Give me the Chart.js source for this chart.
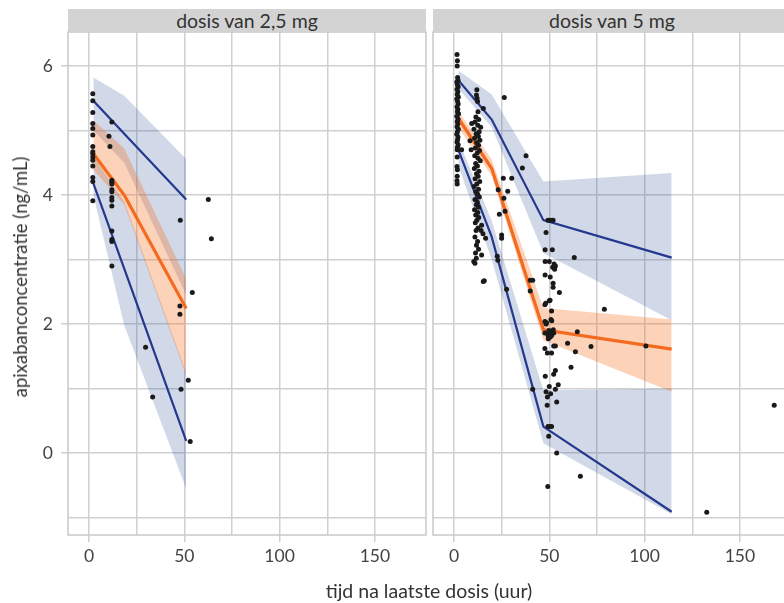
<!DOCTYPE html>
<html>
<head>
<meta charset="utf-8">
<script src="https://cdn.jsdelivr.net/npm/chart.js@4.4.1/dist/chart.umd.min.js"></script>
<style>
  html, body { margin: 0; padding: 0; background: #fff; }
  #wrap { position: relative; width: 784px; height: 603px; overflow: hidden; font-family: Lato, "Noto Sans", sans-serif; }
  canvas { position: absolute; left: 0; top: 0; }
  .strip { position: absolute; top: 9px; height: 23px; width: 358px; background: #d3d3d3; color: #333; font-size: 19.5px; line-height: 23px; text-align: center; }
  .title { position: absolute; color: #333; font-size: 19.5px; white-space: nowrap; transform: translate(-50%, -50%); }
  #ytitle { left: 20px; top: 277px; font-size: 18.5px; transform: translate(-50%, -50%) rotate(-90deg); }
  #xtitle { left: 429px; top: 590px; }
</style>
</head>
<body>
<div id="wrap">
  <canvas id="c25" width="784" height="603"></canvas>
  <canvas id="c5" width="800" height="603"></canvas>
  <div class="strip" id="s25" style="left:68px"></div>
  <div class="strip" id="s5" style="left:433px"></div>
  <div class="title" id="ytitle"></div>
  <div class="title" id="xtitle"></div>
</div>
<script>
// ---- labels ----
const panelTitles = ['dosis van 2,5 mg', 'dosis van 5 mg'];
const yTitle = 'apixabanconcentratie (ng/mL)';
const xTitle = 'tijd na laatste dosis (uur)';
const xTicks = [0, 25, 50, 75, 100, 125, 150];
const yTicks = [-1, 0, 1, 2, 3, 4, 5, 6];

// ---- 2,5 mg: binned percentiles and their confidence bands ----
const tijd25    = [2.3, 18.5, 51];
const p95_25    = [5.46, 4.95, 3.93];
const p50_25    = [4.64, 4.00, 2.24];
const p05_25    = [4.18, 2.86, 0.19];
const ci95hi_25 = [5.82, 5.54, 4.56];
const ci95lo_25 = [5.00, 4.50, 2.45];
const ci50hi_25 = [5.16, 4.72, 2.70];
const ci50lo_25 = [4.39, 3.85, 1.20];
const ci05hi_25 = [4.60, 3.90, 1.25];
const ci05lo_25 = [4.00, 1.98, -0.55];

// observed concentrations, 2,5 mg [tijd, conc]
const obs25 = [
  [2,5.57],[2,5.46],[2,5.28],[2,5.11],[2,5.03],[2,4.93],[2,4.75],[2,4.67],[2,4.64],[2,4.59],
  [2,4.54],[2,4.45],[2,4.27],[2,4.21],[2,3.91],
  [12,5.13],[10.5,4.91],[11,4.75],[12,4.23],[12,4.20],[12,4.17],[12,4.08],[12,4.05],[12,3.96],
  [12,3.92],[12,3.83],[12,3.44],[12,3.31],[12,3.28],[12,2.90],
  [47.9,3.61],[62.6,3.93],[64.2,3.32],[54.2,2.49],[47.7,2.28],[47.7,2.15],[29.7,1.64],
  [33.4,0.87],[48.3,0.99],[52.1,1.13],[53.1,0.18]
];

// ---- 5 mg: binned percentiles and their confidence bands ----
const tijd5    = [2.3, 19.8, 46.9, 114.2];
const p95_5    = [5.78, 5.17, 3.61, 3.03];
const p50_5    = [5.19, 4.41, 1.91, 1.61];
const p05_5    = [4.70, 3.35, 0.41, -0.91];
const ci95hi_5 = [5.93, 5.56, 4.21, 4.34];
const ci95lo_5 = [5.65, 5.05, 3.10, 2.06];
const ci50hi_5 = [5.30, 4.55, 2.25, 2.07];
const ci50lo_5 = [5.05, 4.30, 1.75, 0.95];
const ci05hi_5 = [4.85, 3.60, 0.97, 1.00];
const ci05lo_5 = [4.45, 3.00, 0.15, -0.95];

// observed concentrations, 5 mg [tijd, conc]
const obs5 = [
  // samples just after the dose
  [1.6,6.18],[1.8,6.08],[1.7,6.00],[1.9,5.82],[2.1,5.78],[1.5,5.75],[1.8,5.71],[2.2,5.68],
  [1.6,5.64],[2.0,5.60],[1.7,5.56],[2.3,5.52],[1.5,5.49],[1.9,5.45],[2.2,5.41],[1.6,5.37],
  [2.0,5.33],[1.8,5.29],[2.4,5.26],[1.5,5.22],[2.1,5.18],[1.7,5.14],[2.0,5.10],[1.6,5.06],
  [2.3,5.02],[1.8,4.98],[1.5,4.94],[2.1,4.90],[1.9,4.86],[1.6,4.82],[2.2,4.78],[1.8,4.74],
  [1.7,4.70],[4.0,4.70],[1.7,4.59],[1.6,4.44],[1.8,4.39],[1.7,4.29],[1.6,4.22],[1.7,4.17],
  // samples around 12 h
  [12.0,5.63],[11.8,5.55],[12.1,5.50],[12.4,5.45],[15.4,5.34],[12.6,5.29],[11.5,5.21],
  [13.0,5.17],[9.3,5.11],[11.0,5.13],[12.5,5.08],[14.0,5.05],[10.5,5.02],[13.2,4.98],
  [11.6,4.95],[12.8,4.91],[10.8,4.88],[13.6,4.85],[8.4,4.84],[11.9,4.81],[12.9,4.77],
  [9.0,4.70],[11.2,4.73],[13.4,4.69],[12.2,4.65],[10.9,4.61],[12.6,4.57],[13.8,4.53],
  [11.4,4.49],[12.3,4.45],[10.7,4.41],[13.1,4.37],[11.8,4.33],[12.7,4.29],[11.1,4.25],
  [13.5,4.21],[12.0,4.17],[10.6,4.13],[12.9,4.09],[11.5,4.05],[12.4,4.01],[13.3,3.97],
  [11.0,3.93],[12.2,3.89],[11.7,3.85],[12.9,3.81],[10.8,3.77],[12.5,3.73],[11.4,3.69],
  [13.0,3.65],[12.0,3.61],[11.2,3.57],[14.5,3.53],[12.6,3.49],[11.6,3.45],[15.2,3.40],
  [14.2,3.45],[11.0,3.35],[16.6,3.33],[12.4,3.28],[11.8,3.22],[12.9,3.16],[11.3,3.10],
  [14.5,3.07],[11.7,3.02],[10.4,2.97],[11.0,2.94],[15.4,2.66],[15.9,2.67],
  // later samples
  [26.4,5.51],[37.8,4.61],[35.9,4.42],[25.9,4.26],[30.3,4.26],[23.2,4.08],[28.2,4.06],
  [26.2,3.95],[23.8,3.70],[26.8,3.75],[25.0,3.38],[25.0,3.33],[22.7,3.05],[23.0,2.99],
  [27.6,2.54],[40.0,2.68],[41.3,2.68],[40.0,2.51],
  [49.3,3.61],[50.5,3.61],[52.0,3.61],[48.3,3.42],[47.8,3.15],[51.6,3.15],[47.8,2.97],
  [50.0,2.97],[52.5,2.93],[53.2,2.90],[51.8,2.88],[52.8,2.85],[47.8,2.76],[50.5,2.73],
  [52.0,2.63],[52.0,2.57],[55.3,2.49],[63.1,3.03],
  [47.7,2.30],[48.1,2.32],[50.0,2.36],[50.4,2.37],[78.9,2.23],[51.2,2.20],[47.7,2.04],
  [48.3,2.00],[48.6,2.02],[50.9,2.07],[51.3,2.05],[52.1,1.91],[49.8,1.90],[50.3,1.87],
  [51.0,1.84],[49.4,1.82],[64.7,1.88],[59.6,1.70],[47.7,1.86],[49.5,1.84],[50.5,1.80],
  [51.2,1.82],[49.5,1.77],[52.3,1.86],[52.3,1.66],[53.2,1.66],[71.9,1.65],[100.7,1.66],
  [47.7,1.62],[49.0,1.55],[51.2,1.55],[63.7,1.57],[61.4,1.33],[53.2,1.28],[52.3,1.22],
  [47.9,1.19],[50.0,1.03],[54.7,1.06],[53.2,0.99],[41.3,0.99],[48.3,0.95],[50.7,0.92],
  [49.0,0.87],[53.9,0.79],[48.9,0.74],[49.3,0.41],[50.5,0.41],[51.2,0.41],[49.7,0.26],
  [53.9,0.00],[66.3,-0.36],[49.2,-0.52],[132.6,-0.92],[168.0,0.74]
];

// ---- styling ----
const BLUE_LINE = '#24388e';
const ORANGE_LINE = '#f46a1f';
const BLUE_BAND = 'rgba(40, 70, 140, 0.21)';
const ORANGE_BAND = 'rgba(245, 110, 30, 0.31)';
const GRID = '#cfcfd4';
const TICK_TXT = '#444';
const FONT = { family: 'Lato, "Noto Sans", sans-serif', size: 17.5 };

document.getElementById('s25').textContent = panelTitles[0];
document.getElementById('s5').textContent = panelTitles[1];
document.getElementById('ytitle').textContent = yTitle;
document.getElementById('xtitle').textContent = xTitle;

const pts = (xs, ys) => xs.map((x, i) => ({ x: x, y: ys[i] }));

function bandSets(xs, hi, lo, color, order) {
  return [
    { data: pts(xs, hi), fill: '+1', backgroundColor: color, borderColor: 'transparent',
      borderWidth: 0, pointRadius: 0, tension: 0, order: order },
    { data: pts(xs, lo), fill: false, borderColor: 'transparent',
      borderWidth: 0, pointRadius: 0, tension: 0, order: order }
  ];
}

function lineSet(xs, ys, color, width) {
  return { data: pts(xs, ys), borderColor: color, borderWidth: width, pointRadius: 0,
           fill: false, tension: 0, order: 1 };
}

function buildDatasets(xs, p95, p50, p05, h95, l95, h50, l50, h05, l05, obs) {
  return [
    { data: obs.map(p => ({ x: p[0], y: p[1] })), showLine: false, pointRadius: 2.5,
      pointBackgroundColor: '#1a1a1a', pointBorderWidth: 0, order: 0 },
    lineSet(xs, p95, BLUE_LINE, 2.2),
    lineSet(xs, p05, BLUE_LINE, 2.2),
    lineSet(xs, p50, ORANGE_LINE, 3.2),
    ...bandSets(xs, h50, l50, ORANGE_BAND, 2),
    ...bandSets(xs, h95, l95, BLUE_BAND, 3),
    ...bandSets(xs, h05, l05, BLUE_BAND, 3)
  ];
}

const panelBorder = {
  id: 'panelBorder',
  afterDraw(chart) {
    const a = chart.chartArea, ctx = chart.ctx;
    ctx.save();
    ctx.strokeStyle = '#c8c8cc';
    ctx.lineWidth = 1.5;
    ctx.strokeRect(a.left, a.top, a.right - a.left, a.bottom - a.top);
    ctx.restore();
  }
};

function makePanel(id, datasets, showY, padLeft, padRight) {
  return new Chart(document.getElementById(id), {
    type: 'line',
    data: { datasets: datasets },
    plugins: [panelBorder],
    options: {
      responsive: false,
      animation: false,
      devicePixelRatio: 1,
      layout: { padding: { left: padLeft, right: padRight, top: 32, bottom: 0 } },
      plugins: { legend: { display: false }, tooltip: { enabled: false } },
      scales: {
        x: {
          type: 'linear', min: -11, max: 176.8,
          afterBuildTicks: s => { s.ticks = xTicks.map(v => ({ value: v })); },
          afterFit: s => { s.height = 68; },
          border: { display: false },
          grid: {
            color: GRID, lineWidth: 1.5, tickLength: 7, drawTicks: true,
            tickColor: c => (c.tick && c.tick.value % 50 === 0) ? GRID : 'transparent'
          },
          ticks: {
            autoSkip: false, maxRotation: 0, padding: 4, color: TICK_TXT, font: FONT,
            callback: v => (v % 50 === 0 ? String(v) : '')
          }
        },
        y: {
          type: 'linear', min: -1.271, max: 6.527,
          afterBuildTicks: s => { s.ticks = yTicks.map(v => ({ value: v })); },
          afterFit: s => { s.width = showY ? 68 : 0; },
          border: { display: false },
          grid: {
            color: GRID, lineWidth: 1.5, tickLength: 7, drawTicks: showY,
            tickColor: c => (c.tick && c.tick.value % 2 === 0) ? GRID : 'transparent'
          },
          ticks: {
            display: showY, autoSkip: false, padding: 8, color: TICK_TXT, font: FONT,
            callback: v => (v % 2 === 0 ? String(v) : '')
          }
        }
      }
    }
  });
}

makePanel('c25',
  buildDatasets(tijd25, p95_25, p50_25, p05_25, ci95hi_25, ci95lo_25, ci50hi_25, ci50lo_25,
                ci05hi_25, ci05lo_25, obs25),
  true, 0, 784 - 426);

makePanel('c5',
  buildDatasets(tijd5, p95_5, p50_5, p05_5, ci95hi_5, ci95lo_5, ci50hi_5, ci50lo_5,
                ci05hi_5, ci05lo_5, obs5),
  false, 433, 9);
</script>
</body>
</html>
